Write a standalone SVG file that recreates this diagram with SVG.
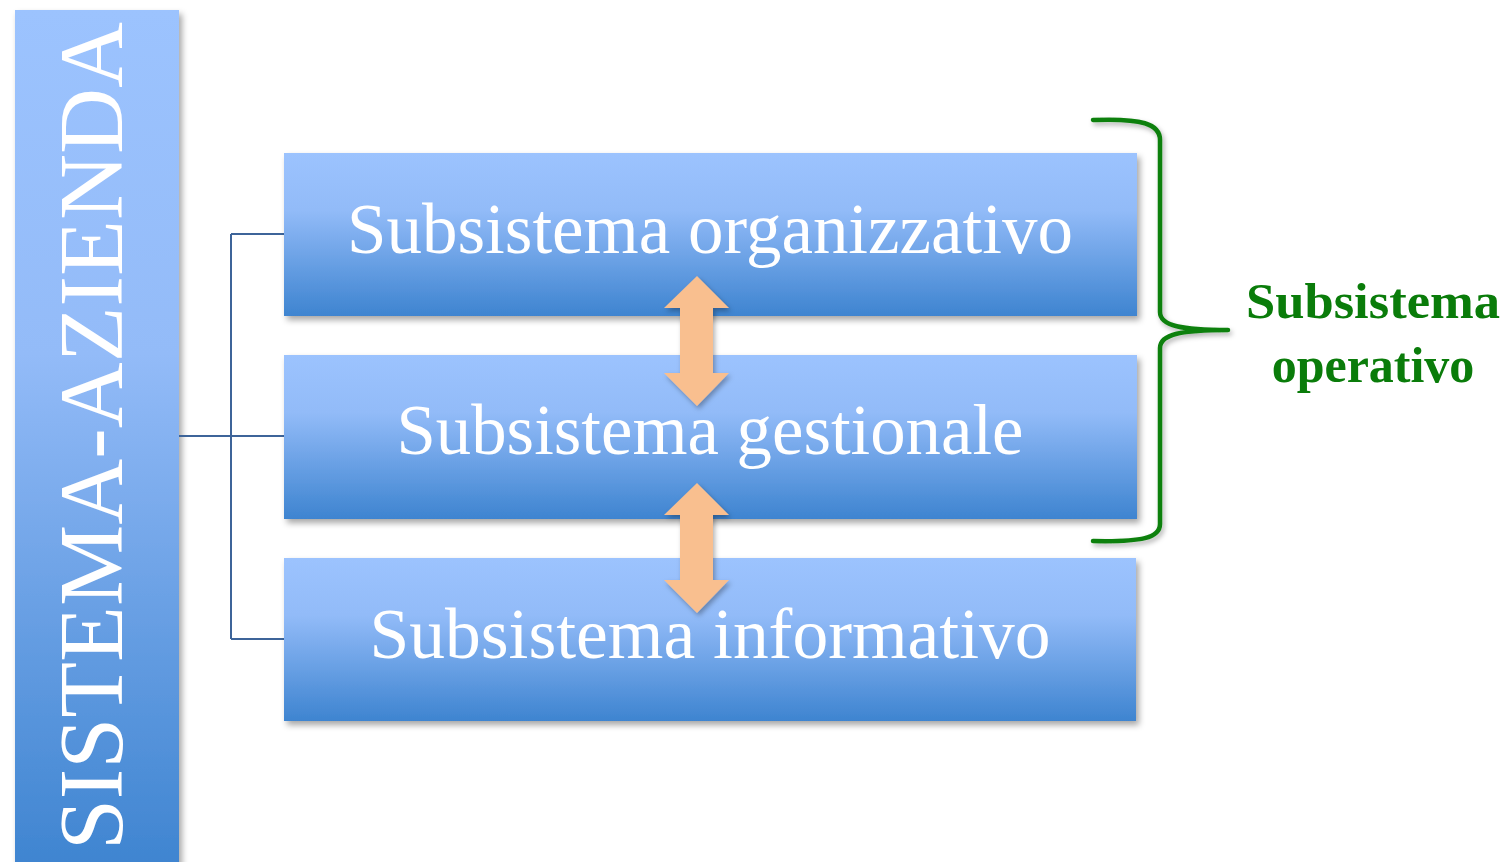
<svg xmlns="http://www.w3.org/2000/svg" width="1506" height="862" viewBox="0 0 1506 862">
  <defs>
    <linearGradient id="boxGrad" x1="0" y1="0" x2="0" y2="1">
      <stop offset="0" stop-color="#9cc3fe"/>
      <stop offset="0.35" stop-color="#92bbf8"/>
      <stop offset="1" stop-color="#3e84d0"/>
    </linearGradient>
    <linearGradient id="sideGrad" x1="0" y1="0" x2="0" y2="1">
      <stop offset="0" stop-color="#9cc3fe"/>
      <stop offset="0.4" stop-color="#93bbf8"/>
      <stop offset="1" stop-color="#3e84d0"/>
    </linearGradient>
    <filter id="shadow" x="-5%" y="-10%" width="115%" height="130%">
      <feDropShadow dx="3" dy="4" stdDeviation="3" flood-color="#000" flood-opacity="0.35"/>
    </filter>
    <filter id="shadowSoft" x="-10%" y="-10%" width="130%" height="130%">
      <feDropShadow dx="2" dy="3" stdDeviation="2.5" flood-color="#000" flood-opacity="0.3"/>
    </filter>
  </defs>
  <style>
    .box { fill: url(#boxGrad); filter: url(#shadow); }
    .boxText { font-family: "Liberation Serif", "DejaVu Serif", serif; font-size: 72px; fill: #ffffff; text-anchor: middle; }
    .conn { fill: none; stroke: #3d6499; stroke-width: 2; }
    .arrow { fill: #f9bf8f; filter: url(#shadowSoft); }
    .brace { fill: none; stroke: #118011; stroke-width: 4.5; stroke-linecap: round; stroke-linejoin: round; filter: url(#shadowSoft); }
    .greenText { font-family: "Liberation Serif", "DejaVu Serif", serif; font-weight: bold; font-size: 50px; fill: #0a7c0a; text-anchor: middle; }
  </style>

  <rect width="1506" height="862" fill="#ffffff"/>

  <g id="sistema-azienda">
    <rect x="15" y="10" width="164" height="860" fill="url(#sideGrad)" filter="url(#shadow)"/>
    <text transform="translate(122,850) rotate(-90)" font-family="Liberation Serif, DejaVu Serif, serif" font-size="90" fill="#ffffff" textLength="828" lengthAdjust="spacingAndGlyphs">SISTEMA-AZIENDA</text>
  </g>

  <g id="connectors">
    <path class="conn" d="M179,436 H284 M231,234 V639 M231,234 H284 M231,639 H284"/>
  </g>

  <g id="subsistema-organizzativo">
    <rect class="box" x="284" y="153" width="853" height="163"/>
    <text class="boxText" x="710" y="253" textLength="726" lengthAdjust="spacingAndGlyphs">Subsistema organizzativo</text>
  </g>

  <g id="subsistema-gestionale">
    <rect class="box" x="284" y="355" width="853" height="164"/>
    <text class="boxText" x="710" y="454" textLength="627" lengthAdjust="spacingAndGlyphs">Subsistema gestionale</text>
  </g>

  <g id="subsistema-informativo">
    <rect class="box" x="284" y="558" width="852" height="163"/>
    <text class="boxText" x="710" y="658" textLength="681" lengthAdjust="spacingAndGlyphs">Subsistema informativo</text>
  </g>

  <g id="arrows">
    <polygon class="arrow" points="697,276 729,308 713,308 713,373 729,373 697,406 664,373 680,373 680,308 664,308"/>
    <polygon class="arrow" points="697,483 729,515 713,515 713,580 729,580 697,613 664,580 680,580 680,515 664,515"/>
  </g>

  <g id="subsistema-operativo">
    <path class="brace" d="M1093,120 C1142,118 1160,124 1160,140 L1160,312 C1160,326 1182,330 1228,330 C1182,330 1160,334 1160,348 L1160,524 C1160,538 1142,542 1093,541"/>
    <text class="greenText" x="1373" y="318" textLength="254" lengthAdjust="spacingAndGlyphs">Subsistema</text>
    <text class="greenText" x="1373" y="382">operativo</text>
  </g>
</svg>
